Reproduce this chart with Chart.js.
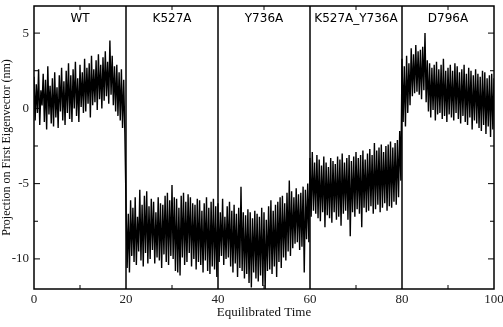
<!DOCTYPE html>
<html lang="en">
<head>
<meta charset="UTF-8" />
<title>Projection on First Eigenvector</title>
<script src="https://cdn.jsdelivr.net/npm/chart.js"></script>
<style>
  html, body { margin: 0; padding: 0; background: #fff; }
  #wrap { width: 503px; height: 327px; }
</style>
</head>
<body>
<div id="wrap"><canvas id="pcaChart" width="503" height="327"></canvas></div>

<script>
  // segments of the run (each 20 time units long)
  const segmentNames = ['WT', 'K527A', 'Y736A', 'K527A_Y736A', 'D796A'];
  const segmentStarts = [0, 20, 40, 60, 80];
  const segmentEnd = 100;

  const xTickLabels = [0, 20, 40, 60, 80, 100];
  const yTickLabels = [-10, -5, 0, 5];
  const yMinorTicks = [-10, -7.5, -5, -2.5, 0, 2.5, 5];
  const xMinorTicks = [10, 30, 50, 70, 90];

  const timeStep = 0.25;
  const projWT = [
    2.1, -0.8, 1.6, -0.3,  2.6, -1.1, 1.2, 0.2,  2.3, -0.9, 1.9, -1.4,  2.8, -0.4, 1.5, -1.0,
    2.0, -1.2, 2.4, -0.6,  1.4, -1.3, 2.2, -0.2,  2.7, -0.8, 1.8, -1.1,  2.5, -0.3, 3.0, -0.7,
    2.2, -0.9, 2.6, 0.0,   3.1, -0.5, 2.0, -0.9,  2.9, 0.1, 2.4, -0.3,   3.3, -0.2, 2.7, 0.3,
    3.0, -0.6, 3.5, 0.2,   2.6, 0.4, 3.2, -0.1,   3.6, 0.6, 2.9, 0.0,    3.4, 0.5, 3.8, 0.8,
    3.1, 0.3, 4.5, 0.9,    3.5, 0.2, 2.8, -0.2,   2.9, -0.5, 2.4, -0.8,  2.6, -1.3, 1.9, -1.6
  ];
  const projK527A = [
    -6.3, -10.6, -7.0, -10.9,  -6.1, -9.8, -6.6, -10.2,  -5.9, -10.4, -7.2, -9.5,  -5.4, -10.1, -6.4, -10.5,
    -5.8, -9.6, -5.5, -10.3,   -6.5, -10.0, -6.0, -9.4,  -6.2, -10.3, -6.9, -9.9,  -5.9, -10.1, -6.3, -10.6,
    -6.4, -9.7, -5.8, -10.2,   -5.6, -10.4, -6.1, -9.8,  -5.1, -10.0, -5.9, -10.8, -6.0, -10.9, -6.6, -11.1,
    -5.8, -9.9, -5.6, -10.4,   -6.2, -10.2, -5.7, -9.6,  -5.9, -10.5, -6.3, -10.0, -6.4, -10.7, -6.0, -10.2,
    -6.1, -10.4, -6.8, -10.9,  -6.3, -10.1, -5.9, -10.8, -6.6, -11.0, -6.2, -10.5, -6.0, -10.7, -6.5, -11.2
  ];
  const projY736A = [
    -6.3, -10.2, -6.9, -9.8,   -6.0, -10.4, -7.2, -10.0, -6.5, -9.9, -6.2, -10.5,  -6.8, -10.9, -6.4, -10.3,
    -7.0, -11.2, -6.6, -10.6,  -5.2, -10.8, -6.9, -11.3, -7.1, -11.0, -6.7, -11.6, -6.9, -11.9, -7.3, -10.9,
    -6.8, -11.3, -7.0, -11.5,  -7.2, -11.1, -6.6, -11.8, -6.9, -12.0, -7.4, -10.8, -6.5, -10.7, -6.1, -11.0,
    -6.8, -10.5, -6.4, -11.2,  -6.2, -10.2, -5.9, -10.6, -5.8, -9.9, -6.3, -10.1,  -5.6, -9.5, -4.8, -9.8,
    -5.5, -9.3, -5.9, -9.0,    -5.3, -8.9, -5.7, -9.4,   -5.6, -9.2, -5.2, -10.9,  -5.4, -8.7, -5.0, -8.9
  ];
  const projDouble = [
    -3.3, -7.2, -2.9, -6.8,  -3.6, -7.0, -3.1, -7.3,  -3.4, -7.5, -3.8, -6.9,  -3.2, -7.9, -3.6, -7.1,
    -3.9, -7.3, -3.3, -7.6,  -3.5, -6.9, -3.7, -7.4,  -3.2, -7.2, -3.4, -7.8,  -3.0, -7.0, -3.6, -6.8,
    -3.3, -7.4, -3.1, -8.5,  -3.5, -6.9, -3.2, -7.2,  -2.9, -6.7, -3.3, -7.0,  -3.1, -7.9, -2.8, -6.6,
    -3.4, -6.9, -3.0, -6.8,  -2.7, -6.5, -3.1, -7.0,  -2.3, -6.7, -2.8, -6.4,  -2.6, -6.9, -2.4, -6.6,
    -2.9, -6.3, -2.5, -6.8,  -2.4, -6.5, -2.2, -6.6,  -2.6, -6.2, -2.3, -6.4,  -2.1, -5.9, -1.5, -4.8
  ];
  const projD796A = [
    3.3, -0.9, 2.8, -1.2,  3.5, -0.3, 3.0, 0.2,   4.0, 0.8, 3.6, 1.0,    4.2, 1.1, 3.8, 0.9,
    3.9, 0.6, 4.1, 1.2,    5.0, 0.4, 3.2, -0.2,   3.0, -0.6, 2.7, -0.1,  2.9, -0.8, 3.1, -0.4,
    2.6, -0.3, 2.9, -0.7,  3.3, -0.5, 2.5, -0.9,  2.7, -0.4, 2.9, -0.6,  2.5, -0.8, 3.0, -0.3,
    2.8, -0.7, 2.4, -1.0,  2.6, -0.5, 2.9, -0.9,  2.3, -1.1, 2.7, -0.6,  2.5, -1.4, 2.2, -0.8,
    2.6, -1.0, 2.3, -1.3,  2.1, -1.5, 2.5, -1.1,  2.4, -1.7, 2.0, -1.2,  2.2, -1.9, 2.3, -1.4,
    2.0
  ];

  const projection = [].concat(projWT, projK527A, projY736A, projDouble, projD796A);
  const points = projection.map((v, i) => ({ x: i * timeStep, y: v }));

  const serif = '"Liberation Serif", "Times New Roman", serif';

  const framePlugin = {
    id: 'frame',
    afterDatasetsDraw(chart) {
      const { ctx, chartArea: a, scales: { x, y } } = chart;
      ctx.save();
      ctx.strokeStyle = '#000';
      ctx.lineWidth = 1.5;

      // segment dividers
      segmentStarts.slice(1).forEach(s => {
        const px = x.getPixelForValue(s);
        ctx.beginPath();
        ctx.moveTo(px, a.top);
        ctx.lineTo(px, a.bottom);
        ctx.stroke();
      });

      ctx.strokeRect(a.left, a.top, a.right - a.left, a.bottom - a.top);

      // inward ticks
      ctx.lineWidth = 1;
      yMinorTicks.forEach(v => {
        const py = y.getPixelForValue(v);
        const len = v % 5 === 0 ? 6 : 4;
        ctx.beginPath();
        ctx.moveTo(a.left, py); ctx.lineTo(a.left + len, py);
        ctx.moveTo(a.right, py); ctx.lineTo(a.right - len, py);
        ctx.stroke();
      });
      xMinorTicks.forEach(v => {
        const px = x.getPixelForValue(v);
        ctx.beginPath();
        ctx.moveTo(px, a.bottom); ctx.lineTo(px, a.bottom - 4);
        ctx.moveTo(px, a.top); ctx.lineTo(px, a.top + 4);
        ctx.stroke();
      });

      // segment names
      ctx.fillStyle = '#000';
      ctx.font = '12px "DejaVu Sans", sans-serif';
      ctx.textAlign = 'center';
      ctx.textBaseline = 'middle';
      segmentNames.forEach((name, i) => {
        const end = i + 1 < segmentStarts.length ? segmentStarts[i + 1] : segmentEnd;
        const px = x.getPixelForValue((segmentStarts[i] + end) / 2);
        ctx.fillText(name, px, a.top + 13);
      });
      ctx.restore();
    }
  };

  new Chart(document.getElementById('pcaChart'), {
    type: 'line',
    data: {
      datasets: [{
        data: points,
        borderColor: '#000',
        borderWidth: 1.4,
        pointRadius: 0,
        tension: 0,
        fill: false
      }]
    },
    options: {
      responsive: false,
      animation: false,
      events: [],
      layout: { padding: { top: 6, right: 9, left: 0, bottom: 0 } },
      plugins: { legend: { display: false }, tooltip: { enabled: false } },
      scales: {
        x: {
          type: 'linear',
          min: 0,
          max: 100,
          grid: { display: false, drawTicks: false },
          border: { display: false },
          afterBuildTicks: s => { s.ticks = xTickLabels.map(v => ({ value: v })); },
          afterFit: s => { s.height = 38; s.paddingLeft = 0; s.paddingRight = 0; },
          ticks: { color: '#222', padding: 3, maxRotation: 0, font: { family: serif, size: 13 } },
          title: {
            display: true,
            text: 'Equilibrated Time',
            color: '#111',
            padding: { top: 0, bottom: 7 },
            font: { family: serif, size: 13 }
          }
        },
        y: {
          min: -12,
          max: 6.8,
          grid: { display: false, drawTicks: false },
          border: { display: false },
          afterBuildTicks: s => { s.ticks = yTickLabels.map(v => ({ value: v })); },
          afterFit: s => { s.width = 34; s.paddingTop = 0; s.paddingBottom = 0; },
          ticks: { color: '#222', padding: 5, font: { family: serif, size: 13 } },
          title: {
            display: true,
            text: 'Projection on First Eigenvector (nm)',
            color: '#111',
            padding: { top: 0, bottom: 0 },
            font: { family: serif, size: 12 }
          }
        }
      }
    },
    plugins: [framePlugin]
  });
</script>
</body>
</html>
